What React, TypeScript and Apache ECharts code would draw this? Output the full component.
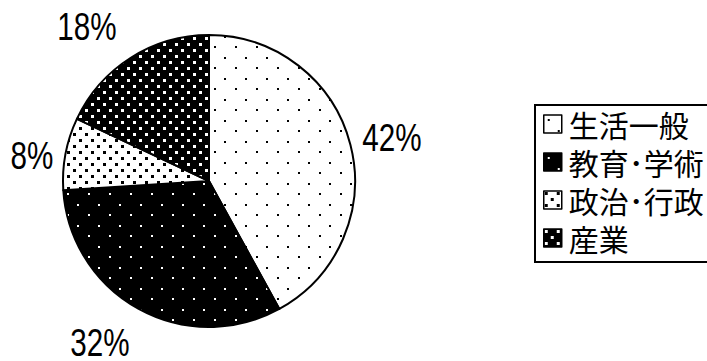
import React, { useEffect, useRef } from "react";
import * as echarts from "echarts";

const categories = ["生活一般", "教育･学術", "政治･行政", "産業"];
const values = [42, 32, 8, 18];

// percentage label centres (layout only)
const LABEL_POS: number[][] = [
  [392, 137.5],
  [100, 343],
  [32, 155.5],
  [87, 26.5],
];

function makePattern(size: number, bg: string, fg: string, dot: number, dots: number[][]) {
  const c = document.createElement("canvas");
  c.width = size;
  c.height = size;
  const ctx = c.getContext("2d")!;
  ctx.fillStyle = bg;
  ctx.fillRect(0, 0, size, size);
  ctx.fillStyle = fg;
  dots.forEach(([x, y]) => ctx.fillRect(x, y, dot, dot));
  return { image: c, repeat: "repeat" as const };
}

export default function App() {
  const ref = useRef<HTMLDivElement>(null);
  useEffect(() => {
    if (!ref.current) return;
    const chart = echarts.init(ref.current, undefined, { renderer: "svg" });
    const patterns = [
      makePattern(21, "#fff", "#000", 2, [[4, 4], [14, 15]]),
      makePattern(21, "#000", "#fff", 2, [[4, 4], [14, 15]]),
      makePattern(12, "#fff", "#000", 3, [[1, 1], [7, 7]]),
      makePattern(12, "#000", "#fff", 3, [[1, 1], [7, 7]]),
    ];
    const total = values.reduce((a, b) => a + b, 0);
    chart.setOption({
      animation: false,
      backgroundColor: "#fff",
      legend: {
        orient: "vertical",
        left: 535,
        top: 103,
        icon: "rect",
        itemWidth: 18,
        itemHeight: 18,
        itemGap: 8,
        padding: [6, 0, 6, 8],
        selectedMode: false,
        textStyle: {
          fontSize: 30,
          lineHeight: 30,
          color: "#000",
          fontFamily: "Noto Sans CJK JP",
          padding: [0, 0, 0, 2],
        },
        itemStyle: { borderColor: "#000", borderWidth: 1.5 },
        data: categories,
      },
      graphic: [
        {
          type: "rect",
          silent: true,
          shape: { x: 535, y: 105, width: 220, height: 157 },
          style: { fill: "none", stroke: "#000", lineWidth: 2 },
        },
        ...values.map((v, i) => ({
          type: "text",
          x: LABEL_POS[i][0],
          y: LABEL_POS[i][1],
          scaleX: 0.78,
          silent: true,
          style: {
            text: `${Math.round((v / total) * 100)}%`,
            fontSize: 38,
            lineHeight: 32,
            fontFamily: "Liberation Sans",
            fill: "#000",
            textAlign: "center",
            textVerticalAlign: "middle",
          },
        })),
      ],
      series: [
        {
          type: "pie",
          center: [209, 181],
          radius: 146,
          startAngle: 90,
          clockwise: true,
          silent: true,
          emphasis: { disabled: true },
          itemStyle: { borderColor: "#000", borderWidth: 2 },
          label: { show: false },
          labelLine: { show: false },
          data: categories.map((name, i) => ({
            name,
            value: values[i],
            itemStyle: { color: patterns[i] },
          })),
        },
      ],
    });
    return () => chart.dispose();
  }, []);
  return (
    <div
      ref={ref}
      style={{ position: "fixed", left: 0, top: 0, width: 707, height: 361 }}
    />
  );
}
